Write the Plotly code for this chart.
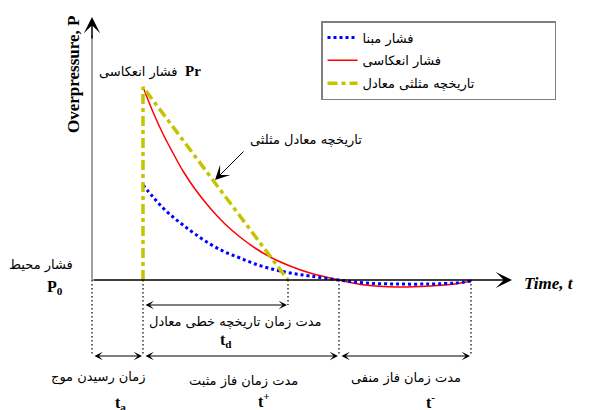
import plotly.graph_objects as go

# ---- data (schematic units: time from axis origin, overpressure above ambient) ----
t_curve = [51, 61, 71, 81, 91, 103, 118, 133, 148, 163, 180, 198, 218, 247, 273, 305, 338, 363, 379]
p_reflected = [193, 168, 146, 127, 109, 91, 72, 56, 43, 32, 22, 14, 7, 0, -5, -7, -6, -4, -1]
p_incident = [95, 83, 72, 63, 55, 46, 36, 28, 22, 16, 11, 7, 4, 0, -3, -4, -4, -3, -1]
t_triangle = [51, 51, 196]
p_triangle = [0, 193, 0]

t_arrival = 51
t_linear_end = 196
t_positive_end = 247
t_negative_end = 379
p_peak = 193

series_names = ["فشار مبنا", "فشار انعکاسی", "تاریخچه مثلثی معادل"]
NB = "\u00a0"

FA = "DejaVu Sans"
SERIF = "Liberation Serif"

fig = go.Figure()

fig.add_trace(go.Scatter(x=t_curve, y=p_reflected, mode="lines", line_shape="spline",
                         line=dict(color="#ff0000", width=1.5), name=series_names[1] + NB * 18,
                         legendrank=2, legendgroup="r"))
fig.add_trace(go.Scatter(x=t_curve, y=p_incident, mode="lines", line_shape="spline",
                         line=dict(color="#0000ff", width=3, dash="3px,3px"), name=series_names[0] + NB * 18,
                         legendrank=1, legendgroup="b"))
fig.add_trace(go.Scatter(x=t_triangle, y=p_triangle, mode="lines",
                         line=dict(color="#c4c400", width=3.5, dash="10px,4px,4px,4px"),
                         name=series_names[2] + NB * 18, legendrank=3, legendgroup="y"))

# levels of dimension lines (below axis)
y_td = -25
y_dim = -76

shapes = []
# y axis (gray)
shapes.append(dict(type="line", xref="x", yref="y", x0=0, x1=0, y0=0, y1=245,
                   line=dict(color="#808080", width=1.5), layer="below"))
# dotted guide lines
for xv, yb in [(0, y_dim), (t_arrival, y_dim), (t_linear_end, y_td), (t_positive_end, y_dim), (t_negative_end, y_dim)]:
    shapes.append(dict(type="line", xref="x", yref="y", x0=xv, x1=xv, y0=0, y1=yb,
                       line=dict(color="#000000", width=1.2, dash="1.5px,2.5px"), layer="below"))
fig.update_layout(shapes=shapes)

ann = []
# x axis arrow
ann.append(dict(x=420, y=0, ax=0, ay=0, xref="x", yref="y", axref="x", ayref="y", text="",
                showarrow=True, arrowhead=3, arrowsize=1.8, arrowwidth=1.5, arrowcolor="#000000", standoff=0))
# y axis arrow head
ann.append(dict(x=0, y=263, ax=0, ay=240, xref="x", yref="y", axref="x", ayref="y", text="",
                showarrow=True, arrowhead=3, arrowsize=1.8, arrowwidth=1.5, arrowcolor="#000000", standoff=0))
# double arrows (dimension lines)
for x0, x1, yv in [(0, t_arrival, y_dim), (t_arrival, t_positive_end, y_dim),
                   (t_positive_end, t_negative_end, y_dim), (t_arrival, t_linear_end, y_td)]:
    ann.append(dict(x=x1 - 1, y=yv, ax=x0 + 1, ay=yv, xref="x", yref="y", axref="x", ayref="y", text="",
                    showarrow=True, arrowhead=3, startarrowhead=3, arrowside="end+start",
                    arrowsize=1.4, startarrowsize=1.4, arrowwidth=1, arrowcolor="#000000",
                    standoff=0, startstandoff=0))
# pointer arrow to the triangle
ann.append(dict(x=123, y=100, ax=153, ay=130, xref="x", yref="y", axref="x", ayref="y", text="",
                showarrow=True, arrowhead=3, arrowsize=2.4, arrowwidth=1, arrowcolor="#000000", standoff=0))


def txt(x, y, s, size=13, family=FA, color="#000000"):
    ann.append(dict(x=x, y=y, xref="x", yref="y", text=s, showarrow=False,
                    font=dict(family=family, size=size, color=color), xanchor="center", yanchor="middle"))


txt(-51, 15, "فشار محیط")
txt(-37, -7, "<b>P<sub>0</sub></b>", size=16, family=SERIF)
txt(46, 208, "فشار انعکاسی")
txt(101, 209, "<b>Pr</b>", size=15, family=SERIF)
txt(214, 140, "تاریخچه معادل مثلثی")
txt(143, -42, "مدت زمان تاریخچه خطی معادل")
txt(134, -60, "<b>t<sub>d</sub></b>", size=16, family=SERIF)
txt(6, -97, "زمان رسیدن موج")
txt(28, -123, "<b>t<sub>a</sub></b>", size=16, family=SERIF)
txt(151, -101, "مدت زمان فاز مثبت")
txt(172, -120, "<b>t<sup>+</sup></b>", size=16, family=SERIF)
txt(314, -98, "مدت زمان فاز منفی")
txt(338, -121, "<b>t<sup>-</sup></b>", size=16, family=SERIF)
txt(457, -3, "<b><i>Time, t</i></b>", size=17, family=SERIF)
ann.append(dict(x=-19, y=205, xref="x", yref="y", text="<b>Overpressure, P</b>", showarrow=False,
                textangle=-90, font=dict(family=SERIF, size=17, color="#000000"),
                xanchor="center", yanchor="middle"))
fig.update_layout(annotations=ann)

fig.update_layout(
    width=614, height=410,
    margin=dict(l=0, r=0, t=0, b=0),
    paper_bgcolor="#ffffff", plot_bgcolor="#ffffff",
    xaxis=dict(range=[-92, 522], visible=False, fixedrange=True),
    yaxis=dict(range=[-130, 280], visible=False, fixedrange=True),
    showlegend=True,
    legend=dict(x=321 / 614, y=1 - 21 / 410, xanchor="left", yanchor="top",
                bordercolor="#808080", borderwidth=1.5, bgcolor="#ffffff",
                font=dict(family=FA, size=13, color="#000000"),
                tracegroupgap=3, itemwidth=30),
)

fig.write_html("out.html", config={"displayModeBar": False},
               post_script="document.body.style.margin='0px';document.body.style.overflow='hidden';")
